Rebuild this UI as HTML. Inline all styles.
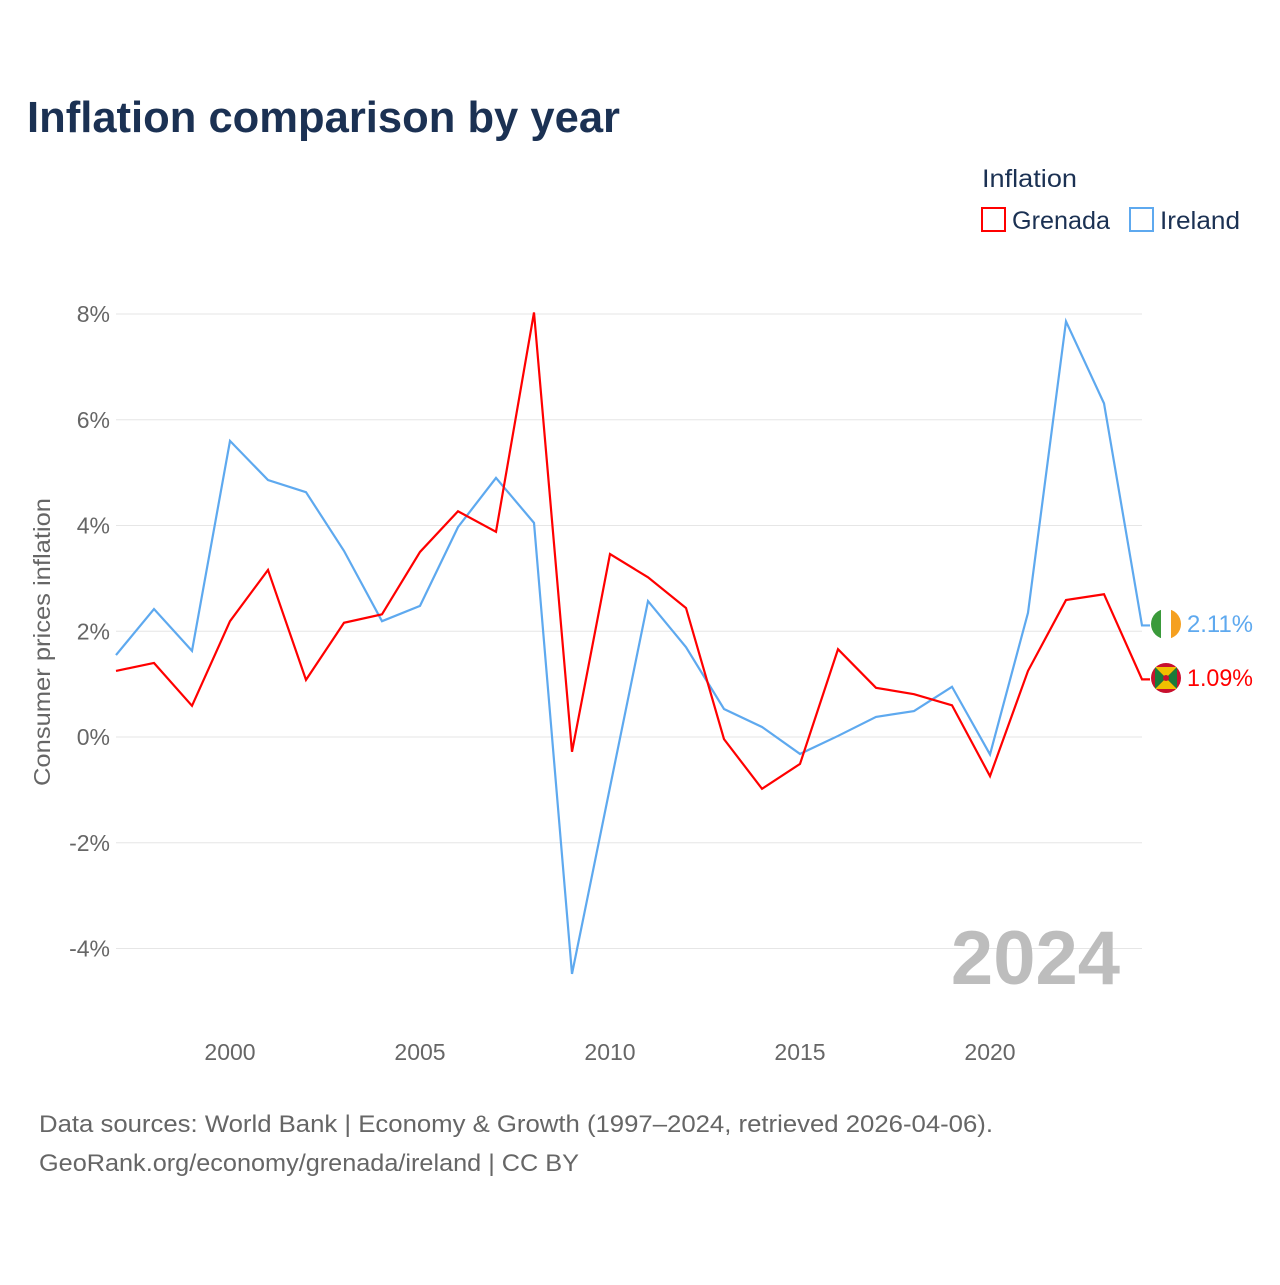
<!DOCTYPE html>
<html><head><meta charset="utf-8"><style>
body{margin:0;background:#fff;font-family:"Liberation Sans",sans-serif}
svg text{font-family:"Liberation Sans",sans-serif}
</style></head><body>
<svg id="chart" width="1280" height="1280" viewBox="0 0 1280 1280" xmlns="http://www.w3.org/2000/svg">
<rect width="1280" height="1280" fill="#fff"/>
<text x="27" y="132" font-size="44" font-weight="bold" fill="#1b3153" textLength="593" lengthAdjust="spacingAndGlyphs">Inflation comparison by year</text>
<text x="982" y="187" font-size="25" fill="#1b3153" textLength="95" lengthAdjust="spacingAndGlyphs">Inflation</text>
<g><rect x="982" y="208" width="23" height="23" fill="none" stroke="#ff0000" stroke-width="2"/><text x="1012" y="229" font-size="25" fill="#1b3153" textLength="98" lengthAdjust="spacingAndGlyphs">Grenada</text></g>
<g><rect x="1130" y="208" width="23" height="23" fill="none" stroke="#5ea9ef" stroke-width="2"/><text x="1160" y="229" font-size="25" fill="#1b3153" textLength="80" lengthAdjust="spacingAndGlyphs">Ireland</text></g>
<text transform="translate(50,642) rotate(-90)" text-anchor="middle" font-size="23" fill="#666" textLength="288" lengthAdjust="spacingAndGlyphs">Consumer prices inflation</text>
<g id="grid"></g><g id="yticks"></g><g id="xticks"></g>
<text x="1120" y="984" text-anchor="end" font-size="76" font-weight="bold" fill="#bdbdbd">2024</text>
<g id="series"></g>
<g><clipPath id="c1"><circle cx="1166" cy="624" r="15"/></clipPath><g clip-path="url(#c1)"><rect x="1151" y="609" width="10" height="30" fill="#3a9a3a"/><rect x="1161" y="609" width="10" height="30" fill="#fff"/><rect x="1171" y="609" width="10" height="30" fill="#f5a020"/></g></g>
<g><clipPath id="c2"><circle cx="1166" cy="678" r="15"/></clipPath><g clip-path="url(#c2)"><rect x="1151" y="663" width="30" height="30" fill="#c8102e"/><polygon points="1155,667 1177,667 1166,678" fill="#f0c000"/><polygon points="1155,689 1177,689 1166,678" fill="#f0c000"/><polygon points="1155,667 1155,689 1166,678" fill="#1a7a3a"/><polygon points="1177,667 1177,689 1166,678" fill="#1a7a3a"/><circle cx="1166" cy="678" r="3" fill="#c8102e"/></g></g>
<text x="1187" y="632" font-size="24" fill="#5ea9ef" textLength="66" lengthAdjust="spacingAndGlyphs">2.11%</text>
<text x="1187" y="686" font-size="24" fill="#ff0000" textLength="66" lengthAdjust="spacingAndGlyphs">1.09%</text>
<text x="39" y="1132" font-size="24" fill="#666" textLength="954" lengthAdjust="spacingAndGlyphs">Data sources: World Bank | Economy &amp; Growth (1997–2024, retrieved 2026-04-06).</text>
<text x="39" y="1171" font-size="24" fill="#666" textLength="540" lengthAdjust="spacingAndGlyphs">GeoRank.org/economy/grenada/ireland | CC BY</text>
</svg>
<script>
const years=[1997,1998,1999,2000,2001,2002,2003,2004,2005,2006,2007,2008,2009,2010,2011,2012,2013,2014,2015,2016,2017,2018,2019,2020,2021,2022,2023,2024];
const grenada=[1.25,1.40,0.59,2.19,3.16,1.08,2.16,2.32,3.50,4.27,3.88,8.03,-0.28,3.46,3.02,2.44,-0.04,-0.98,-0.51,1.66,0.93,0.81,0.60,-0.74,1.25,2.59,2.70,1.09];
const ireland=[1.55,2.42,1.63,5.60,4.86,4.63,3.52,2.19,2.48,3.97,4.90,4.05,-4.48,-0.95,2.57,1.70,0.53,0.19,-0.32,0.02,0.38,0.49,0.95,-0.33,2.35,7.86,6.31,2.11];
const yTicks=[8,6,4,2,0,-2,-4];
const xTicks=[2000,2005,2010,2015,2020];
const NS="http://www.w3.org/2000/svg";
const x=v=>116+(v-1997)*38;
const y=v=>737-v*52.875;
function mk(t,a,p){const e=document.createElementNS(NS,t);for(const k in a)e.setAttribute(k,a[k]);p.appendChild(e);return e;}
const grid=document.getElementById('grid'),yt=document.getElementById('yticks'),xt=document.getElementById('xticks'),ser=document.getElementById('series');
yTicks.forEach(v=>{
 const l=mk('line',{x1:116,x2:1142,y1:y(v),y2:y(v),stroke:'#e6e6e6','stroke-width':1},grid);
 
 
 const t=mk('text',{x:110,y:y(v)+8,'text-anchor':'end','font-size':23,fill:'#666'},yt);
 t.textContent=v+'%';
 
 
});
xTicks.forEach(v=>{
 const t=mk('text',{x:x(v),y:1060,'text-anchor':'middle','font-size':23,fill:'#666'},xt);
 t.textContent=v;
 
 
});
function line(d,c,name){
 let p=d.map((v,i)=>(i?'L':'M')+x(years[i])+','+y(v)).join(' ');
 p+=' L'+(x(years[years.length-1])+8)+','+y(d[d.length-1]);
 const e=mk('path',{d:p,fill:'none',stroke:c,'stroke-width':2.2,'stroke-linejoin':'miter'},ser);
 
 
}
line(ireland,'#5ea9ef','ireland-line');
line(grenada,'#ff0000','grenada-line');
</script>
</body></html>
